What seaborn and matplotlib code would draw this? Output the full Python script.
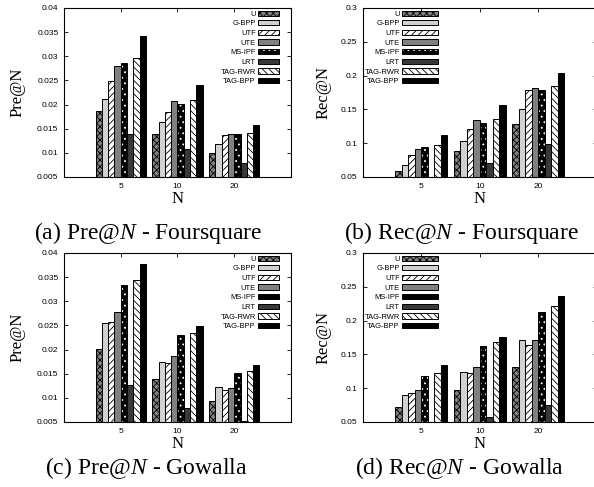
import pandas as pd
import seaborn as sns
import matplotlib.pyplot as plt
from matplotlib.patches import Patch

n_values = ["5", "10", "20"]
methods = ["U", "G-BPP", "UTF", "UTE", "MS-IPF", "LRT", "TAG-RWR", "TAG-BPP"]

# one row per method, columns follow n_values
pre_foursquare = [
    [0.0186, 0.0138, 0.0100],
    [0.0211, 0.0163, 0.0118],
    [0.0249, 0.0185, 0.0136],
    [0.0279, 0.0207, 0.0140],
    [0.0286, 0.0201, 0.0138],
    [0.0140, 0.0107, 0.0078],
    [0.0296, 0.0209, 0.0142],
    [0.0342, 0.0240, 0.0157],
]
rec_foursquare = [
    [0.059, 0.088, 0.128],
    [0.068, 0.103, 0.151],
    [0.082, 0.121, 0.178],
    [0.091, 0.135, 0.182],
    [0.094, 0.130, 0.178],
    [0.045, 0.070, 0.099],
    [0.097, 0.136, 0.185],
    [0.112, 0.156, 0.204],
]
pre_gowalla = [
    [0.0202, 0.0139, 0.0094],
    [0.0254, 0.0175, 0.0123],
    [0.0258, 0.0172, 0.0116],
    [0.0277, 0.0186, 0.0121],
    [0.0334, 0.0230, 0.0151],
    [0.0127, 0.0080, 0.0053],
    [0.0345, 0.0235, 0.0156],
    [0.0378, 0.0249, 0.0168],
]
rec_gowalla = [
    [0.072, 0.098, 0.132],
    [0.090, 0.124, 0.172],
    [0.093, 0.122, 0.164],
    [0.098, 0.132, 0.172],
    [0.118, 0.163, 0.212],
    [0.045, 0.057, 0.075],
    [0.123, 0.168, 0.221],
    [0.134, 0.176, 0.237],
]

pre_ticks = [0.005, 0.01, 0.015, 0.02, 0.025, 0.03, 0.035, 0.04]
pre_labels = ["0.005", "0.01", "0.015", "0.02", "0.025", "0.03", "0.035", "0.04"]
rec_ticks = [0.05, 0.1, 0.15, 0.2, 0.25, 0.3]
rec_labels = ["0.05", "0.1", "0.15", "0.2", "0.25", "0.3"]

styles = {
    "U": dict(face="0.5", hatch="xxxxx", hcolor="black"),
    "G-BPP": dict(face="0.82"),
    "UTF": dict(face="white", hatch="/////", hcolor="black"),
    "UTE": dict(face="0.5"),
    "MS-IPF": dict(face="black", hatch="...", hcolor="white"),
    "LRT": dict(face="0.22"),
    "TAG-RWR": dict(face="white", hatch="\\\\\\\\\\", hcolor="black"),
    "TAG-BPP": dict(face="black"),
}

plt.rcParams["font.family"] = ["Liberation Sans", "DejaVu Sans"]
plt.rcParams["mathtext.fontset"] = "custom"
plt.rcParams["mathtext.rm"] = "Liberation Serif"
plt.rcParams["mathtext.it"] = "Liberation Serif:italic"
plt.rcParams["hatch.linewidth"] = 0.6
SERIF = ["Liberation Serif", "DejaVu Serif"]


def style_patch(p, st, with_hatch=True):
    p.set_facecolor(st["face"])
    p.set_edgecolor("black")
    p.set_linewidth(0.7)
    if with_hatch and "hatch" in st:
        p.set_hatch(st["hatch"])
        if hasattr(p, "set_hatchcolor"):
            p.set_hatchcolor(st["hcolor"])
        else:
            p._hatch_color = plt.matplotlib.colors.to_rgba(st["hcolor"])


def panel(ax, values, ticks, labels, ylabel, ylab_x, leg_x, handlelen, dotted_leg=True):
    rows = []
    for m, vals in zip(methods, values):
        for n, v in zip(n_values, vals):
            rows.append({"N": n, "value": v, "method": m})
    df = pd.DataFrame(rows)
    sns.barplot(
        data=df, x="N", y="value", hue="method",
        order=n_values, hue_order=methods,
        palette={m: styles[m]["face"] for m in methods},
        width=8 / 9, gap=0, saturation=1, errorbar=None, legend=False, ax=ax,
    )
    for m, cont in zip(methods, ax.containers):
        for p in cont.patches:
            style_patch(p, styles[m])

    ax.set_xlim(-1, 3)
    ax.set_ylim(ticks[0], ticks[-1])
    ax.set_yticks(ticks)
    ax.set_yticklabels(labels)
    ax.set_axisbelow(True)
    ax.tick_params(direction="in", length=3, width=0.6, top=True, right=True,
                   labelsize=6, pad=4)
    for s in ax.spines.values():
        s.set_linewidth(0.8)

    ax.set_xlabel("N", family=SERIF, fontsize=12, va="center")
    ax.xaxis.set_label_coords(0.5, -0.13)
    ax.set_ylabel(ylabel, family=SERIF, fontsize=12, va="center")
    ax.yaxis.set_label_coords(ylab_x, 0.5)

    handles = []
    for m in methods:
        h = Patch()
        style_patch(h, styles[m], with_hatch=(dotted_leg or m != "MS-IPF"))
        handles.append(h)
    ax.legend(handles, methods, loc="upper right", bbox_to_anchor=(leg_x, 0.985),
              frameon=False, markerfirst=False, fontsize=5.4,
              handlelength=handlelen, handleheight=0.7, labelspacing=0.32,
              handletextpad=0.3, borderpad=0, borderaxespad=0)


fig = plt.figure(figsize=(5.94, 4.87), dpi=100)
ax_a = fig.add_axes([0.1077, 0.6366, 0.3822, 0.347])
ax_b = fig.add_axes([0.6111, 0.6366, 0.3939, 0.347])
ax_c = fig.add_axes([0.1077, 0.1335, 0.3822, 0.347])
ax_d = fig.add_axes([0.6111, 0.1335, 0.3939, 0.347])

panel(ax_a, pre_foursquare, pre_ticks, pre_labels, "Pre@N", -0.205, 0.947, 2.8)
panel(ax_b, rec_foursquare, rec_ticks, rec_labels, "Rec@N", -0.17, 0.3205, 4.8)
panel(ax_c, pre_gowalla, pre_ticks, pre_labels, "Pre@N", -0.205, 0.947, 2.8, dotted_leg=False)
panel(ax_d, rec_gowalla, rec_ticks, rec_labels, "Rec@N", -0.17, 0.3205, 4.8, dotted_leg=False)

captions = [
    ("(a) Pre@$N$ - Foursquare", 148, 233),
    ("(b) Rec@$N$ - Foursquare", 461, 233),
    ("(c) Pre@$N$ - Gowalla", 146, 468),
    ("(d) Rec@$N$ - Gowalla", 460, 468),
]
for txt, x, y in captions:
    fig.text(x / 594, 1 - y / 487, txt, family=SERIF, fontsize=17,
             ha="center", va="center")

fig.savefig("out.png", dpi=100)
